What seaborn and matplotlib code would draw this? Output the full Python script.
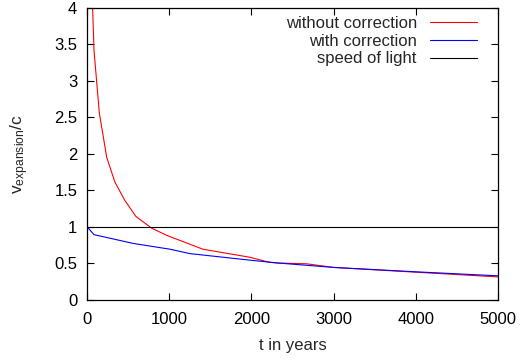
import matplotlib
matplotlib.use("Agg")
import matplotlib.pyplot as plt
import seaborn as sns
import pandas as pd

# data
t_without = [60, 85, 150, 240, 340, 460, 595, 785, 970, 1410, 1980, 2220, 2330, 2670, 3000, 4000, 5000]
v_without = [4.3, 3.42, 2.56, 1.95, 1.61, 1.36, 1.14, 0.98, 0.88, 0.69, 0.58, 0.51, 0.50, 0.49, 0.44, 0.375, 0.31]
t_with = [0, 85, 560, 1010, 1250, 1980, 2330, 3000, 4000, 5000]
v_with = [1.0, 0.89, 0.77, 0.69, 0.63, 0.54, 0.50, 0.44, 0.38, 0.325]
t_light = [0, 5000]
v_light = [1.0, 1.0]

labels = ["without correction", "with correction", "speed of light"]
colors = ["#ff0000", "#0000ff", "#000000"]
x_ticks = [0, 1000, 2000, 3000, 4000, 5000]
y_ticks = [0, 0.5, 1, 1.5, 2, 2.5, 3, 3.5, 4]
y_tick_labels = ["0", "0.5", "1", "1.5", "2", "2.5", "3", "3.5", "4"]

FS = 12

sns.set_style("ticks")
plt.rcParams["font.family"] = ["Liberation Sans", "DejaVu Sans"]
plt.rcParams["mathtext.fontset"] = "custom"
plt.rcParams["mathtext.rm"] = "Liberation Sans"
plt.rcParams["mathtext.it"] = "Liberation Sans:italic"
plt.rcParams["font.size"] = FS

fig = plt.figure(figsize=(5.2, 3.6), dpi=100)
ax = fig.add_axes([87 / 520, 1 - 299.5 / 360, 411 / 520, 291.5 / 360])

series = [(t_without, v_without), (t_with, v_with), (t_light, v_light)]
for (t, v), lab, col in zip(series, labels, colors):
    df = pd.DataFrame({"t": t, "v": v})
    sns.lineplot(data=df, x="t", y="v", ax=ax, color=col, linewidth=0.8,
                 label=lab, sort=False, estimator=None)

ax.set_xlim(0, 5000)
ax.set_ylim(0, 4)
ax.set_xticks(x_ticks)
ax.set_xticklabels([str(x) for x in x_ticks])
ax.set_yticks(y_ticks)
ax.set_yticklabels(y_tick_labels)
ax.tick_params(direction="in", length=5, width=0.8, top=True, right=True,
               labelsize=FS, colors="black")
ax.tick_params(axis="x", pad=9)
ax.tick_params(axis="y", pad=7)
for s in ax.spines.values():
    s.set_visible(True)
    s.set_linewidth(0.9)
    s.set_color("black")

ax.set_xlabel("t in years", fontsize=FS, labelpad=8)
ax.set_ylabel(r"v$_{\mathrm{expansion}}$/c", fontsize=FS + 0.5, labelpad=17)

leg = ax.legend(loc="upper right", bbox_to_anchor=(0.968, 1.0), frameon=False,
                markerfirst=False, handlelength=2.8, handletextpad=0.8,
                labelspacing=0.16, borderaxespad=0.0, borderpad=0.48,
                fontsize=FS)

fig.savefig("out.png", dpi=100)
